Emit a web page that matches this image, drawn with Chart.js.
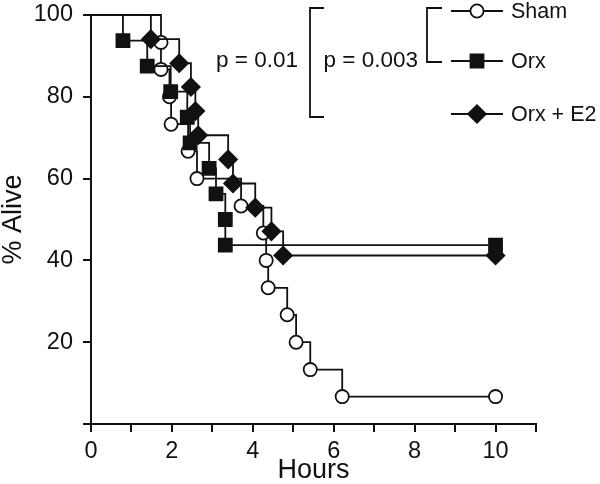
<!DOCTYPE html>
<html><head><meta charset="utf-8">
<script src="https://cdn.jsdelivr.net/npm/chart.js@4.4.1/dist/chart.umd.min.js"></script>
<style>html,body{margin:0;padding:0;background:#fff}#wrap{width:600px;height:484px;position:relative}</style>
</head><body><div id="wrap"><canvas id="c" width="600" height="484"></canvas></div>
<script>
// Kaplan-Meier survival data (hours, % alive)
const shamHours = [0, 1.73, 1.73, 1.94, 1.98, 2.40, 2.62, 3.71, 4.26, 4.33, 4.38, 4.85, 5.07, 5.42, 6.21, 10];
const shamAlive = [100, 93.3, 86.7, 80, 73.3, 66.7, 60, 53.3, 46.7, 40, 33.3, 26.7, 20, 13.3, 6.7, 6.7];
const orxHours = [0, 0.79, 1.39, 1.97, 2.38, 2.45, 2.92, 3.09, 3.32, 3.32, 10];
const orxAlive = [100, 93.75, 87.5, 81.25, 75, 68.75, 62.5, 56.25, 50, 43.75, 43.75];
const orxE2Hours = [0, 1.48, 2.18, 2.47, 2.58, 2.65, 3.39, 3.51, 4.06, 4.46, 4.75, 10];
const orxE2Alive = [100, 94.1, 88.2, 82.4, 76.5, 70.6, 64.7, 58.8, 52.9, 47.1, 41.2, 41.2];
const seriesNames = ['Sham', 'Orx', 'Orx + E2'];
const xTickLabels = [0, 2, 4, 6, 8, 10];
const yTickLabels = [20, 40, 60, 80, 100];
const pLabels = ['p = 0.01', 'p = 0.003'];
const xAxisTitle = 'Hours';
const yAxisTitle = '% Alive';

const FONT = '"Liberation Sans", Arial, Helvetica, sans-serif';
const toPts = (xs, ys) => xs.map((x, i) => ({x: x, y: ys[i]}));
const radii = (n, r) => Array.from({length: n}, (_, i) => i === 0 ? 0 : r);

const styles = [
  {pointStyle: 'circle', radius: 6.6, bg: '#ffffff'},
  {pointStyle: 'rect', radius: 9.2, bg: '#111111'},
  {pointStyle: 'rectRot', radius: 8.8, bg: '#111111'}
];
const seriesData = [toPts(shamHours, shamAlive), toPts(orxHours, orxAlive), toPts(orxE2Hours, orxE2Alive)];

const datasets = seriesData.map((d, i) => ({
  label: seriesNames[i],
  data: d,
  stepped: 'before',
  borderColor: '#111111',
  borderWidth: 1.8,
  backgroundColor: styles[i].bg,
  pointStyle: styles[i].pointStyle,
  pointRadius: radii(d.length, styles[i].radius),
  pointBackgroundColor: styles[i].bg,
  pointBorderColor: '#111111',
  pointBorderWidth: 1.8,
  fill: false,
  clip: false,
  order: 2 - i
}));

const legendPlugin = {
  id: 'kmLegend',
  afterDraw(chart) {
    const ctx = chart.ctx;
    ctx.save();
    ctx.strokeStyle = '#111111';
    ctx.lineWidth = 1.8;
    // outer bracket
    ctx.beginPath();
    ctx.moveTo(324, 8); ctx.lineTo(310, 8); ctx.lineTo(310, 117); ctx.lineTo(324, 117);
    ctx.stroke();
    // inner bracket
    ctx.beginPath();
    ctx.moveTo(442, 8); ctx.lineTo(427, 8); ctx.lineTo(427, 62); ctx.lineTo(442, 62);
    ctx.stroke();
    ctx.fillStyle = '#111111';
    ctx.font = '22.5px ' + FONT;
    ctx.textBaseline = 'middle';
    ctx.textAlign = 'right';
    ctx.fillText(pLabels[0], 298, 61);
    ctx.fillText(pLabels[1], 418, 61);
    const rows = [11, 61, 114];
    ctx.font = '21.5px ' + FONT;
    ctx.textAlign = 'left';
    rows.forEach((y, i) => {
      ctx.beginPath();
      ctx.lineWidth = 1.8;
      ctx.moveTo(451, y); ctx.lineTo(503, y);
      ctx.stroke();
      ctx.fillStyle = styles[i].bg;
      Chart.helpers.drawPoint(ctx, {pointStyle: styles[i].pointStyle, radius: styles[i].radius, rotation: 0, borderWidth: 1.8}, 477, y);
      ctx.fillStyle = '#111111';
      ctx.fillText(seriesNames[i], 511, y + 1);
    });
    ctx.restore();
  }
};

new Chart(document.getElementById('c'), {
  type: 'line',
  data: {datasets: datasets},
  plugins: [legendPlugin],
  options: {
    responsive: false,
    animation: false,
    devicePixelRatio: 1,
    layout: {padding: {top: 15, right: 64, left: 0, bottom: 0}},
    plugins: {legend: {display: false}, tooltip: {enabled: false}},
    scales: {
      x: {
        type: 'linear', min: 0, max: 11,
        afterFit: s => { s.height = 60; s.paddingLeft = 0; s.paddingRight = 0; },
        grid: {display: true, drawOnChartArea: false, drawTicks: true, tickLength: 8, color: '#111111', lineWidth: 2},
        border: {display: true, color: '#111111', width: 2},
        ticks: {
          stepSize: 1, autoSkip: false, maxRotation: 0, padding: 5, color: '#111111',
          font: {size: 23.5, family: FONT},
          callback: v => xTickLabels.includes(v) ? String(v) : ''
        },
        title: {display: true, text: xAxisTitle, color: '#111111', font: {size: 27, family: FONT, lineHeight: 1}, padding: 0}
      },
      y: {
        type: 'linear', min: 0, max: 100,
        afterFit: s => { s.width = 91; s.paddingTop = 0; s.paddingBottom = 0; },
        grid: {display: true, drawOnChartArea: false, drawTicks: true, tickLength: 8, color: '#111111', lineWidth: 2},
        border: {display: true, color: '#111111', width: 2},
        ticks: {
          stepSize: 20, padding: 10, color: '#111111',
          font: {size: 23.5, family: FONT},
          callback: v => yTickLabels.includes(v) ? String(v) : ''
        },
        title: {display: true, text: yAxisTitle, color: '#111111', font: {size: 27, family: FONT, lineHeight: 1}, padding: 0}
      }
    }
  }
});
</script>
</body></html>
